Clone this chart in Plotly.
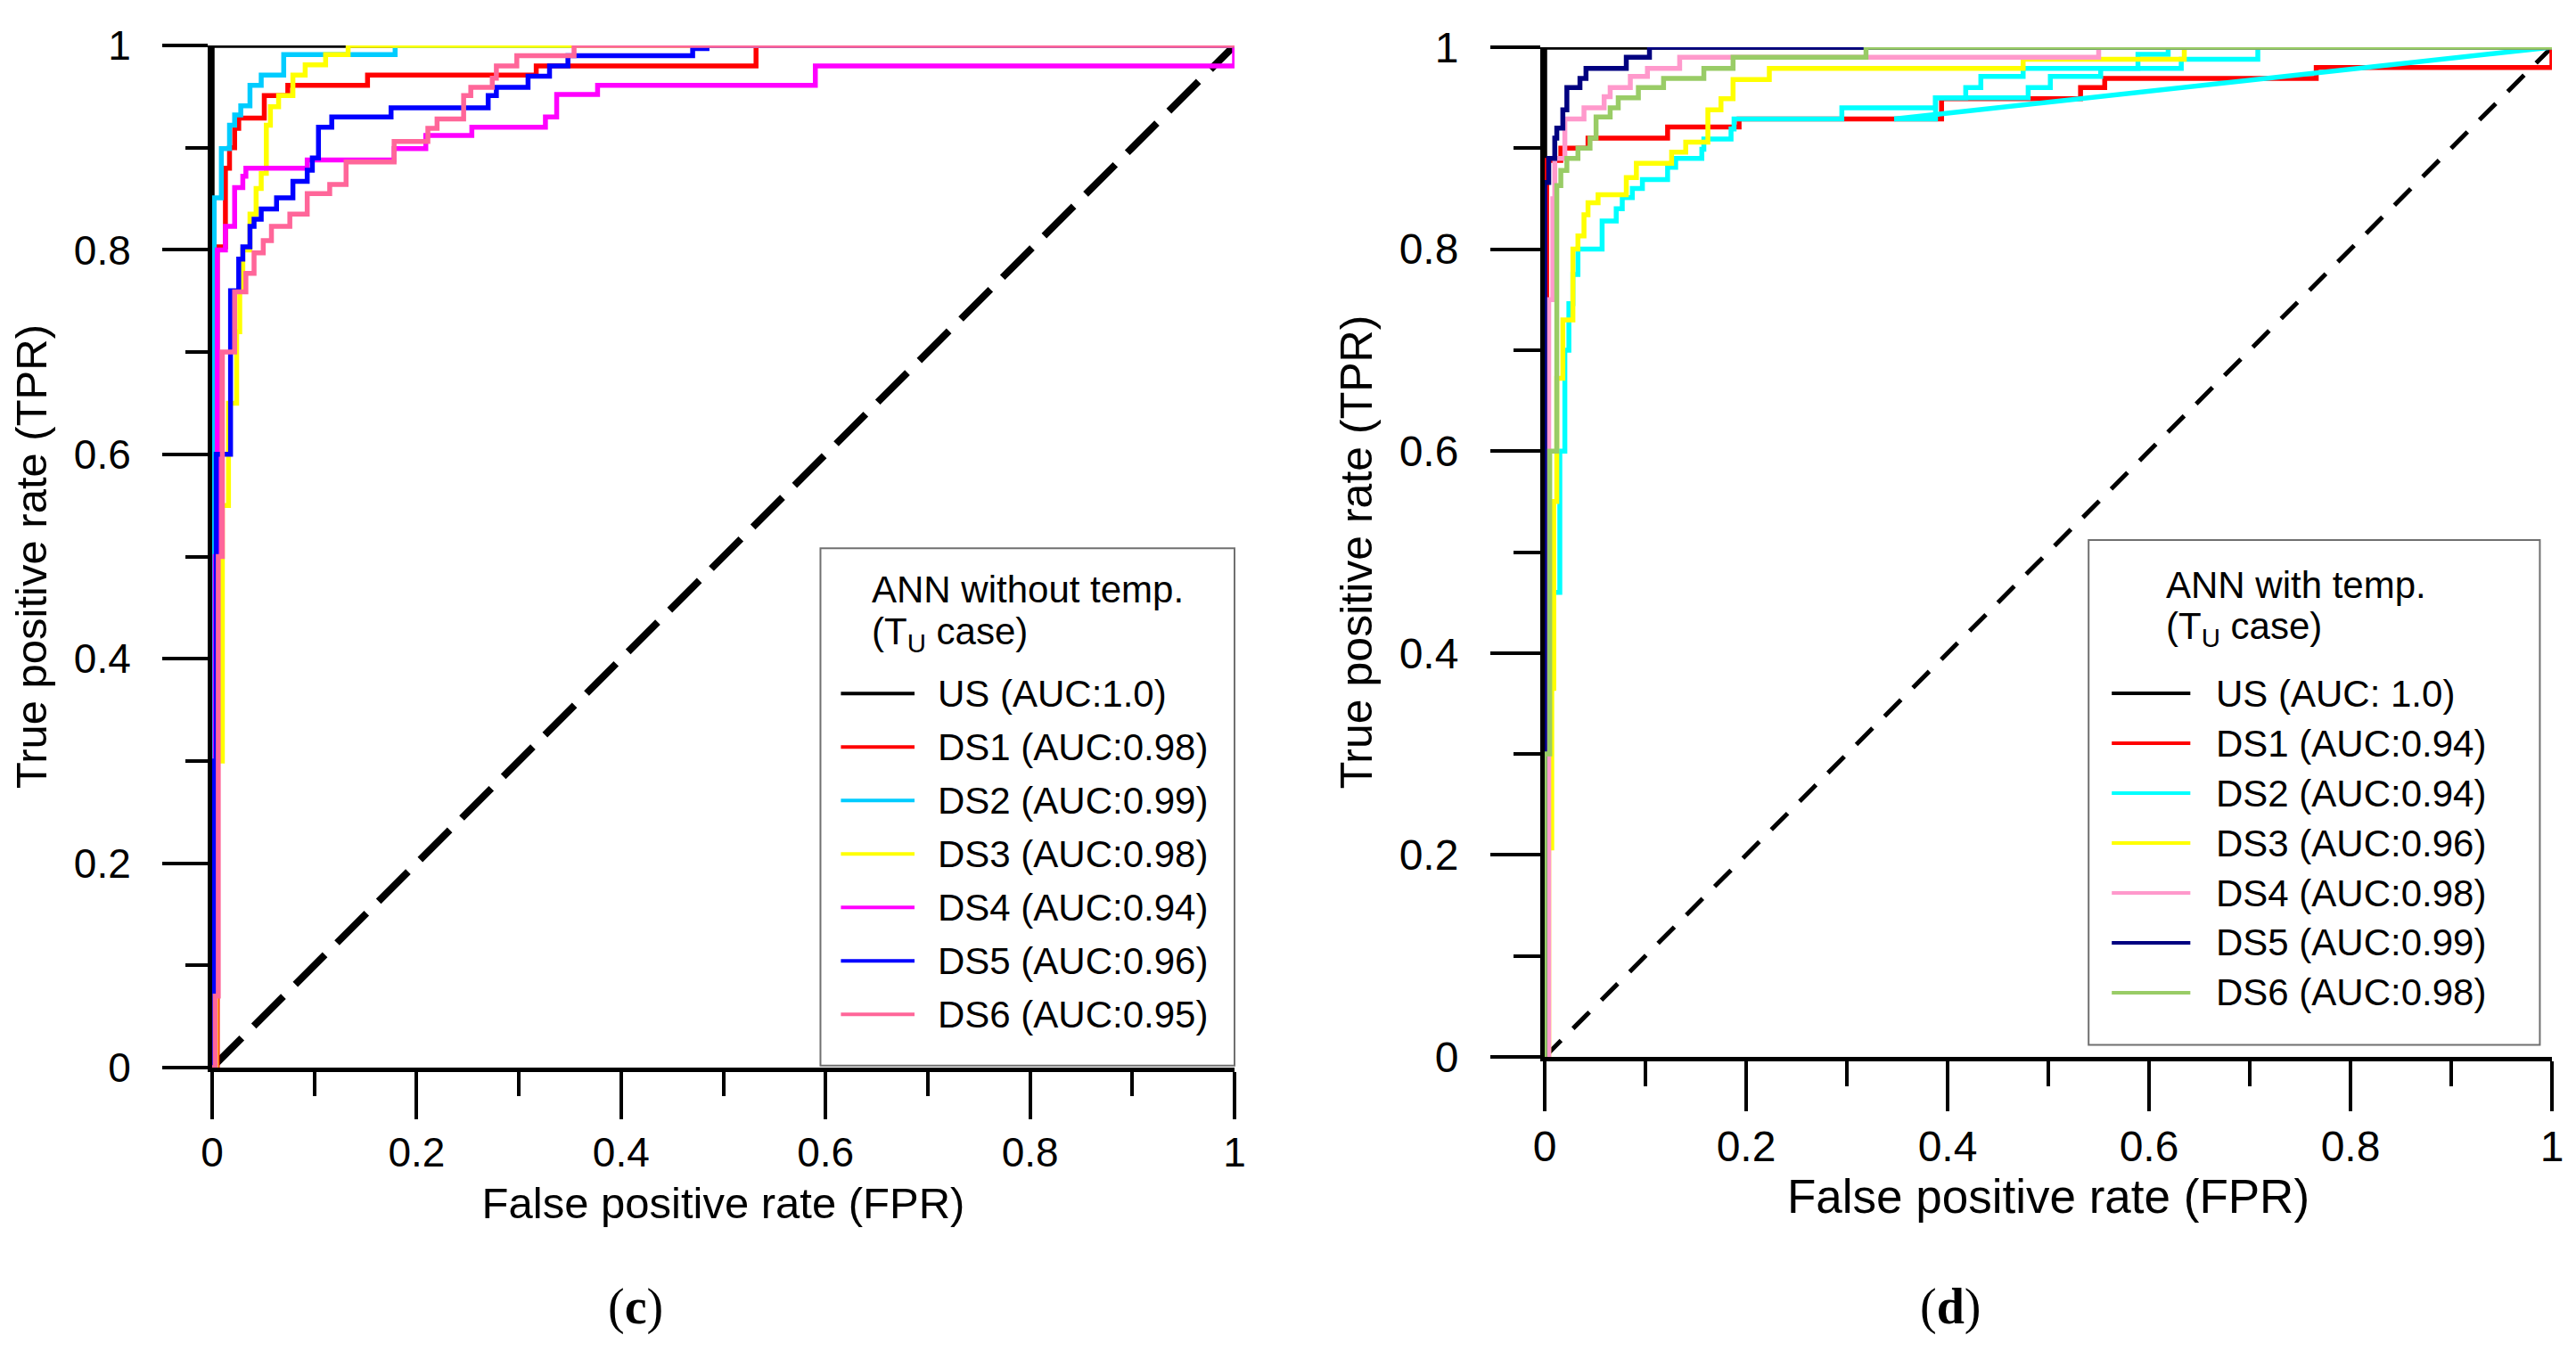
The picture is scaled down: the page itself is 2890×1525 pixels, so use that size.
import plotly.graph_objects as go

# ---- panel (c): ANN without temp. ----
c_names = ['US (AUC:1.0)', 'DS1 (AUC:0.98)', 'DS2 (AUC:0.99)', 'DS3 (AUC:0.98)',
           'DS4 (AUC:0.94)', 'DS5 (AUC:0.96)', 'DS6 (AUC:0.95)']
c_colors = ['#000000', '#ff0000', '#00ccff', '#ffff00', '#ff00ff', '#0000ff', '#ff6699']

c_us_fpr = [0, 0, 1]
c_us_tpr = [0, 1, 1]
c_ds1_fpr = [0, 0.005, 0.013, 0.017, 0.022, 0.026, 0.051, 0.074, 0.152, 0.317, 0.532, 1]
c_ds1_tpr = [0, 0.803, 0.88, 0.90, 0.919, 0.929, 0.951, 0.961, 0.971, 0.98, 1.0, 1]
c_ds2_fpr = [0, 0.002, 0.009, 0.017, 0.022, 0.028, 0.037, 0.048, 0.070, 0.179, 1]
c_ds2_tpr = [0, 0.851, 0.899, 0.922, 0.932, 0.941, 0.961, 0.971, 0.991, 1.0, 1]
c_ds3_fpr = [0, 0.004, 0.010, 0.016, 0.024, 0.027, 0.030, 0.037, 0.043, 0.048, 0.053,
             0.057, 0.065, 0.079, 0.091, 0.111, 0.133, 1]
c_ds3_tpr = [0, 0.30, 0.55, 0.65, 0.72, 0.76, 0.80, 0.835, 0.86, 0.875, 0.922,
             0.94, 0.951, 0.971, 0.981, 0.991, 1.0, 1]
c_ds4_fpr = [0, 0.003, 0.005, 0.013, 0.022, 0.030, 0.033, 0.093, 0.178, 0.209, 0.254,
             0.326, 0.337, 0.377, 0.59, 1.0]
c_ds4_tpr = [0, 0.5, 0.80, 0.823, 0.861, 0.872, 0.88, 0.888, 0.899, 0.912, 0.92,
             0.93, 0.952, 0.961, 0.98, 1.0]
c_ds5_fpr = [0, 0.002, 0.004, 0.018, 0.026, 0.030, 0.037, 0.041, 0.048, 0.063, 0.079,
             0.093, 0.098, 0.104, 0.117, 0.175, 0.270, 0.278, 0.309, 0.330, 0.348,
             0.470, 0.484, 1]
c_ds5_tpr = [0, 0.30, 0.60, 0.76, 0.791, 0.803, 0.823, 0.83, 0.84, 0.851, 0.867,
             0.878, 0.89, 0.92, 0.93, 0.939, 0.951, 0.959, 0.97, 0.98, 0.99,
             0.997, 1.0, 1]
c_ds6_fpr = [0, 0.003, 0.006, 0.010, 0.022, 0.033, 0.041, 0.050, 0.058, 0.076, 0.093,
             0.115, 0.131, 0.178, 0.211, 0.220, 0.246, 0.253, 0.274, 0.278, 0.298,
             0.354, 1]
c_ds6_tpr = [0, 0.07, 0.50, 0.70, 0.759, 0.777, 0.797, 0.809, 0.823, 0.835, 0.855,
             0.864, 0.886, 0.906, 0.919, 0.928, 0.951, 0.959, 0.968, 0.98, 0.99,
             1.0, 1]

# ---- panel (d): ANN with temp. ----
d_names = ['US (AUC: 1.0)', 'DS1 (AUC:0.94)', 'DS2 (AUC:0.94)', 'DS3 (AUC:0.96)',
           'DS4 (AUC:0.98)', 'DS5 (AUC:0.99)', 'DS6 (AUC:0.98)']
d_colors = ['#000000', '#ff0000', '#00ffff', '#ffff00', '#ff99cc', '#000080', '#99cc66']

d_us_fpr = [0, 0, 1]
d_us_tpr = [0, 1, 1]
d_ds1_fpr = [0, 0.002, 0.016, 0.043, 0.122, 0.193, 0.394, 0.532, 0.556, 0.766, 1.0]
d_ds1_tpr = [0, 0.888, 0.90, 0.91, 0.921, 0.929, 0.949, 0.96, 0.969, 0.98, 1.0]
d_ds2_fpr = [0.011, 0.015, 0.020, 0.024, 0.028, 0.033, 0.057, 0.071, 0.077, 0.087,
             0.097, 0.122, 0.130, 0.156, 0.158, 0.185, 0.188, 0.295, 0.388, 0.418,
             0.433, 0.475, 0.589, 0.619, 1]
d_ds2_tpr = [0.46, 0.60, 0.70, 0.746, 0.775, 0.80, 0.828, 0.84, 0.851, 0.86,
             0.869, 0.881, 0.89, 0.899, 0.909, 0.919, 0.929, 0.94, 0.95, 0.96,
             0.971, 0.979, 0.993, 1.0, 1]
d_ds2b_fpr = [0.347, 0.388, 0.48, 0.502, 0.552, 0.632, 0.708]
d_ds2b_tpr = [0.929, 0.95, 0.96, 0.971, 0.979, 0.988, 1.0]
d_ds2c_fpr = [0.347, 1.0]
d_ds2c_tpr = [0.929, 1.0]
d_ds3_fpr = [0, 0.004, 0.007, 0.009, 0.012, 0.018, 0.028, 0.033, 0.039, 0.043, 0.053,
             0.081, 0.091, 0.126, 0.140, 0.162, 0.175, 0.187, 0.223, 0.475, 0.635, 1]
d_ds3_tpr = [0, 0.207, 0.365, 0.55, 0.672, 0.73, 0.80, 0.813, 0.834, 0.846, 0.854,
             0.871, 0.885, 0.896, 0.906, 0.938, 0.949, 0.968, 0.979, 0.988, 1.0, 1]
d_ds4_fpr = [0, 0.004, 0.008, 0.010, 0.020, 0.039, 0.059, 0.065, 0.085, 0.102, 0.134, 0.55, 1]
d_ds4_tpr = [0, 0.75, 0.85, 0.89, 0.929, 0.94, 0.951, 0.96, 0.971, 0.979, 0.99, 1.0, 1]
d_ds5_fpr = [0, 0, 0.004, 0.010, 0.012, 0.018, 0.022, 0.035, 0.041, 0.081, 0.104, 1]
d_ds5_tpr = [0, 0.866, 0.89, 0.91, 0.92, 0.938, 0.96, 0.969, 0.979, 0.99, 1.0, 1]
d_ds6_fpr = [0, 0, 0.005, 0.012, 0.016, 0.022, 0.033, 0.045, 0.051, 0.065, 0.073,
             0.093, 0.118, 0.158, 0.187, 0.319, 1]
d_ds6_tpr = [0, 0.30, 0.60, 0.863, 0.878, 0.89, 0.90, 0.91, 0.931, 0.94, 0.95,
             0.96, 0.969, 0.979, 0.99, 1.0, 1]

chance = [0, 1]
tick_vals = [0, 0.2, 0.4, 0.6, 0.8, 1]
tick_text = ['0', '0.2', '0.4', '0.6', '0.8', '1']

c_series = [(c_us_fpr, c_us_tpr), (c_ds1_fpr, c_ds1_tpr), (c_ds2_fpr, c_ds2_tpr),
            (c_ds3_fpr, c_ds3_tpr), (c_ds4_fpr, c_ds4_tpr), (c_ds5_fpr, c_ds5_tpr),
            (c_ds6_fpr, c_ds6_tpr)]
d_series = [(d_us_fpr, d_us_tpr), (d_ds1_fpr, d_ds1_tpr), (d_ds2_fpr, d_ds2_tpr),
            (d_ds3_fpr, d_ds3_tpr), (d_ds4_fpr, d_ds4_tpr), (d_ds5_fpr, d_ds5_tpr),
            (d_ds6_fpr, d_ds6_tpr)]

FONT = 'Liberation Sans, Arial, sans-serif'
W, H = 2890, 1525
LW = 5.5

fig = go.Figure()

# chance lines
fig.add_trace(go.Scatter(x=chance, y=chance, mode='lines', xaxis='x', yaxis='y',
                         line=dict(color='black', width=8, dash='47px,19px'),
                         showlegend=False, cliponaxis=False))
fig.add_trace(go.Scatter(x=chance, y=chance, mode='lines', xaxis='x2', yaxis='y2',
                         line=dict(color='black', width=5, dash='26px,19px'),
                         showlegend=False, cliponaxis=False))

for (fx, ty), name, col in zip(c_series, c_names, c_colors):
    fig.add_trace(go.Scatter(x=fx, y=ty, mode='lines', name=name, xaxis='x', yaxis='y',
                             line=dict(color=col, width=LW, shape='hv'),
                             showlegend=False, cliponaxis=False))

for i, ((fx, ty), name, col) in enumerate(zip(d_series, d_names, d_colors)):
    fig.add_trace(go.Scatter(x=fx, y=ty, mode='lines', name=name, xaxis='x2', yaxis='y2',
                             line=dict(color=col, width=LW, shape='hv'),
                             showlegend=False, cliponaxis=False))
    if i == 2:
        # extra DS2 branches as drawn in the original figure
        fig.add_trace(go.Scatter(x=d_ds2b_fpr, y=d_ds2b_tpr, mode='lines', xaxis='x2', yaxis='y2',
                                 line=dict(color=col, width=LW, shape='hv'),
                                 showlegend=False, cliponaxis=False))
        fig.add_trace(go.Scatter(x=d_ds2c_fpr, y=d_ds2c_tpr, mode='lines', xaxis='x2', yaxis='y2',
                                 line=dict(color=col, width=LW),
                                 showlegend=False, cliponaxis=False))

# axes
def axis_style(tick_size, major_len, minor_len, title, title_size, standoff):
    return dict(range=[0, 1], tickmode='array', tickvals=tick_vals, ticktext=tick_text,
                ticks='outside', ticklen=major_len, tickwidth=4, tickcolor='black',
                minor=dict(dtick=0.1, tick0=0, ticks='outside', ticklen=minor_len,
                           tickwidth=4, tickcolor='black', showgrid=False),
                showline=True, linecolor='black', linewidth=5, mirror=False,
                showgrid=False, zeroline=False, automargin=False,
                tickfont=dict(family=FONT, size=tick_size, color='black'),
                ticklabelstandoff=standoff,
                title=dict(text=title, font=dict(family=FONT, size=title_size, color='black')))

xl = axis_style(46, 53, 27, 'False positive rate (FPR)', 49, -2)
xl.update(domain=[230 / W, 1377 / W], anchor='y')
xl['title']['standoff'] = 16
yl = axis_style(46, 51, 25, 'True positive rate (TPR)', 49, 26)
yl.update(domain=[1 - 1190 / H, 1 - 43 / H], anchor='x')
yl['title']['standoff'] = 18
xr = axis_style(48, 56, 28, 'False positive rate (FPR)', 53, -2)
xr.update(domain=[1725 / W, 2855 / W], anchor='y2')
xr['title']['standoff'] = 14
yr = axis_style(48, 56, 30, 'True positive rate (TPR)', 50, 26)
yr.update(domain=[1 - 1178 / H, 1 - 45 / H], anchor='x2')
yr['title']['standoff'] = 16

# legends drawn inside each panel
shapes = []
annotations = []

def add_legend(xref, yref, box, title_y, title_x, row_y0, row_dy, line_x, text_x,
               names, colors, title_text, fsize):
    shapes.append(dict(type='rect', xref=xref, yref=yref, x0=box[0], x1=box[1],
                       y0=box[2], y1=box[3], line=dict(color='#707070', width=2),
                       fillcolor='white', layer='above'))
    annotations.append(dict(xref=xref, yref=yref, x=title_x, y=title_y[0], text=title_text,
                            showarrow=False, xanchor='left', yanchor='middle',
                            font=dict(family=FONT, size=fsize, color='black')))
    annotations.append(dict(xref=xref, yref=yref, x=title_x, y=title_y[1],
                            text='(T<sub>U</sub> case)',
                            showarrow=False, xanchor='left', yanchor='middle',
                            font=dict(family=FONT, size=fsize, color='black')))
    for k, (nm, col) in enumerate(zip(names, colors)):
        yy = row_y0 - k * row_dy
        shapes.append(dict(type='line', xref=xref, yref=yref, x0=line_x[0], x1=line_x[1],
                           y0=yy, y1=yy, line=dict(color=col, width=4), layer='above'))
        annotations.append(dict(xref=xref, yref=yref, x=text_x, y=yy, text=nm,
                                showarrow=False, xanchor='left', yanchor='middle',
                                font=dict(family=FONT, size=fsize, color='black')))

add_legend('x domain', 'y domain', (0.595, 1.0, 0.002, 0.508), (0.468, 0.424), 0.643,
           0.366, 0.0523, (0.615, 0.687), 0.708, c_names, c_colors, 'ANN without temp.', 42)
add_legend('x2 domain', 'y2 domain', (0.540, 0.988, 0.012, 0.512), (0.467, 0.424), 0.615,
           0.360, 0.0494, (0.563, 0.641), 0.665, d_names, d_colors, 'ANN with temp.', 42)

# panel letters
annotations.append(dict(xref='paper', yref='paper', x=705 / W, y=1 - 1458 / H,
                        text='(<b>c</b>)', showarrow=False, xanchor='center', yanchor='middle',
                        font=dict(family='Liberation Serif, Times New Roman, serif', size=56,
                                  color='black')))
annotations.append(dict(xref='paper', yref='paper', x=2180 / W, y=1 - 1458 / H,
                        text='(<b>d</b>)', showarrow=False, xanchor='center', yanchor='middle',
                        font=dict(family='Liberation Serif, Times New Roman, serif', size=56,
                                  color='black')))

fig.update_layout(width=W, height=H, template='none',
                  margin=dict(l=0, r=0, t=0, b=0),
                  paper_bgcolor='white', plot_bgcolor='white',
                  xaxis=xl, yaxis=yl, xaxis2=xr, yaxis2=yr,
                  shapes=shapes, annotations=annotations, showlegend=False)

fig.write_html('out.html')
